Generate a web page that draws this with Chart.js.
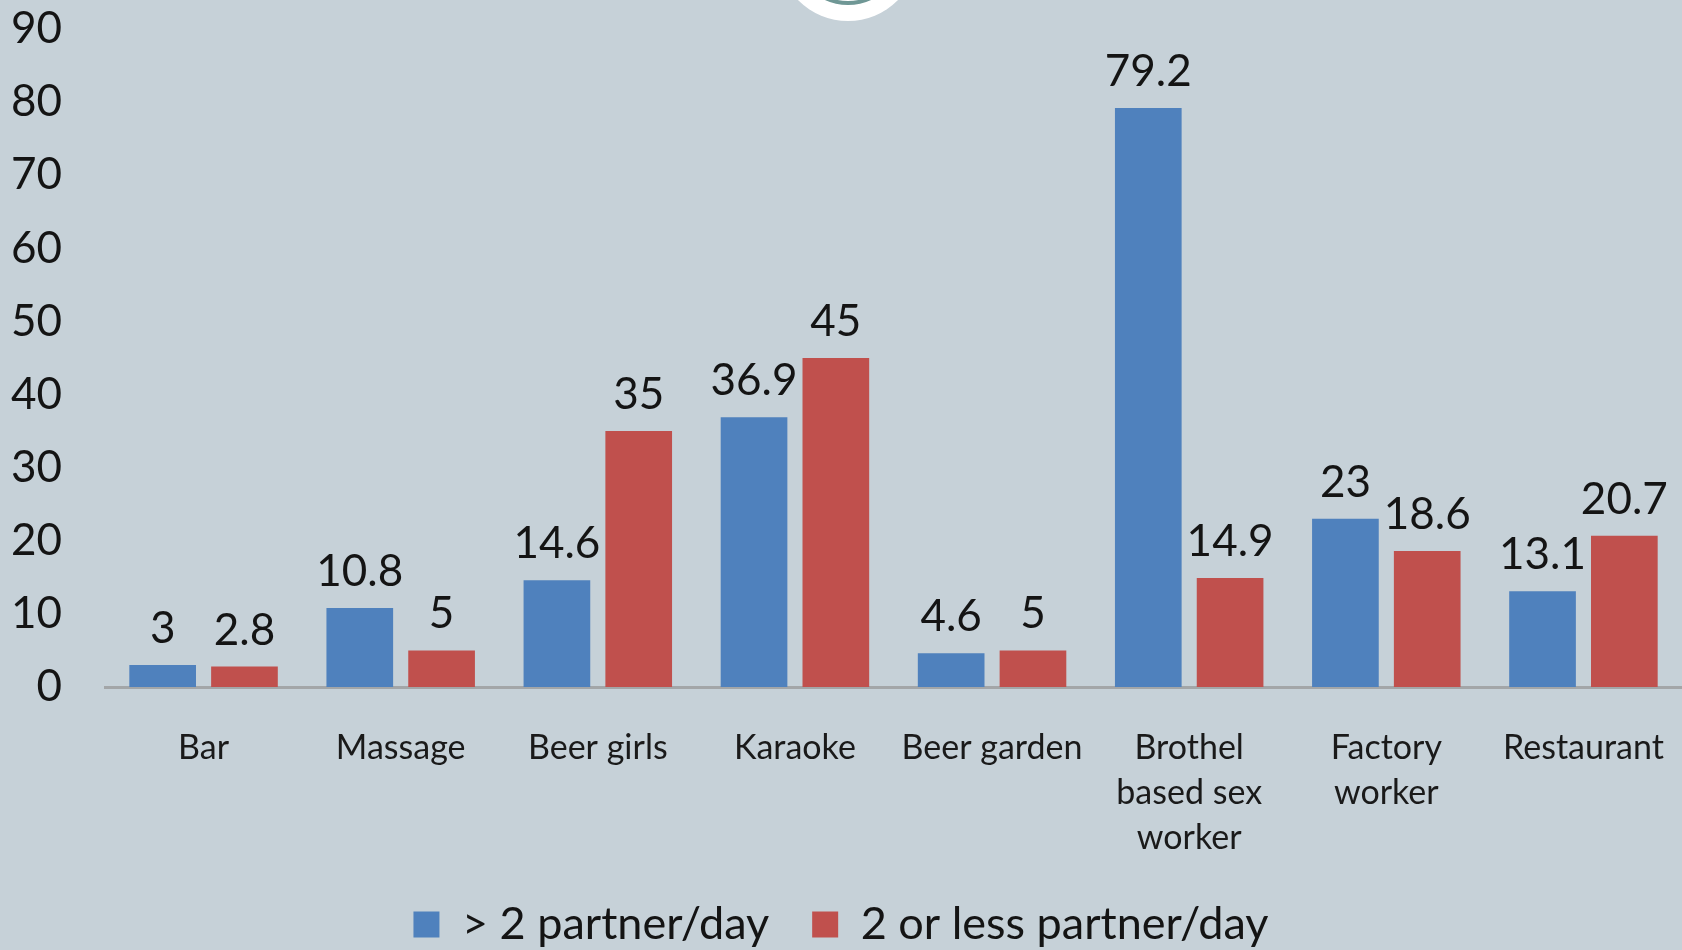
<!DOCTYPE html>
<html>
<head>
<meta charset="utf-8">
<script src="https://cdn.jsdelivr.net/npm/chart.js@4.4.0/dist/chart.umd.min.js"></script>
<style>
  html, body { margin: 0; padding: 0; background: #c6d1d8; }
  #wrap { position: relative; width: 1682px; height: 950px; overflow: hidden; }
  #chart { display: block; }
  .logo {
    position: absolute; left: 778px; top: -119px;
    width: 140px; height: 140px; border-radius: 50%; background: #fff;
  }
  .logo-ring {
    position: absolute; left: 794px; top: -103px;
    width: 108px; height: 108px; border-radius: 50%;
    border: 4px solid #6f9795; box-sizing: border-box;
  }
</style>
</head>
<body>
<div id="wrap">
  <canvas id="chart" width="1682" height="950"></canvas>
  <div class="logo"></div>
  <div class="logo-ring"></div>
</div>
<script>
// 数据
const categories = ['Bar', 'Massage', 'Beer girls', 'Karaoke', 'Beer garden',
  ['Brothel', 'based sex', 'worker'], ['Factory', 'worker'], 'Restaurant'];
const moreThanTwo = [3, 10.8, 14.6, 36.9, 4.6, 79.2, 23, 13.1];
const twoOrLess = [2.8, 5, 35, 45, 5, 14.9, 18.6, 20.7];
const yMin = 0;
const yMax = 90;
const yStep = 10;

const FONT = 'Lato, "Open Sans", sans-serif';

// 柱顶数值标签
const valueLabels = {
  id: 'valueLabels',
  afterDatasetsDraw(chart) {
    const ctx = chart.ctx;
    ctx.save();
    ctx.font = '44px ' + FONT;
    ctx.fillStyle = '#141414';
    ctx.textAlign = 'center';
    ctx.textBaseline = 'alphabetic';
    chart.data.datasets.forEach((ds, i) => {
      chart.getDatasetMeta(i).data.forEach((bar, j) => {
        ctx.fillText(String(ds.data[j]), bar.x, bar.y - 22);
      });
    });
    ctx.restore();
  }
};

new Chart(document.getElementById('chart'), {
  type: 'bar',
  data: {
    labels: categories,
    datasets: [
      {
        label: '> 2 partner/day',
        data: moreThanTwo,
        backgroundColor: '#4f81bd',
        categoryPercentage: 0.83,
        barPercentage: 0.815
      },
      {
        label: '2 or less partner/day',
        data: twoOrLess,
        backgroundColor: '#c0504d',
        categoryPercentage: 0.83,
        barPercentage: 0.815
      }
    ]
  },
  options: {
    responsive: false,
    animation: false,
    layout: { padding: { top: 0, right: 0, bottom: -7, left: 0 } },
    plugins: {
      legend: {
        position: 'bottom',
        labels: {
          boxWidth: 26,
          boxHeight: 26,
          padding: 43,
          color: '#141414',
          font: { family: FONT, size: 45 }
        }
      },
      tooltip: { enabled: false }
    },
    scales: {
      x: {
        grid: { display: false },
        border: { display: true, color: '#a3a6a8', width: 3 },
        ticks: {
          color: '#1a1a1a',
          padding: 31,
          maxRotation: 0,
          autoSkip: false,
          font: { family: FONT, size: 34, lineHeight: 1.32 }
        },
        afterFit(scale) {
          scale.height = 172;
          scale.paddingLeft = 0;
          scale.paddingRight = 0;
        }
      },
      y: {
        min: yMin,
        max: yMax,
        grid: { display: false },
        border: { display: false },
        ticks: {
          stepSize: yStep,
          color: '#141414',
          padding: 35,
          font: { family: FONT, size: 44 }
        },
        afterFit(scale) {
          scale.width = 105;
          scale.paddingTop = 29;
          scale.paddingBottom = 0;
        }
      }
    }
  },
  plugins: [valueLabels]
});
</script>
</body>
</html>
